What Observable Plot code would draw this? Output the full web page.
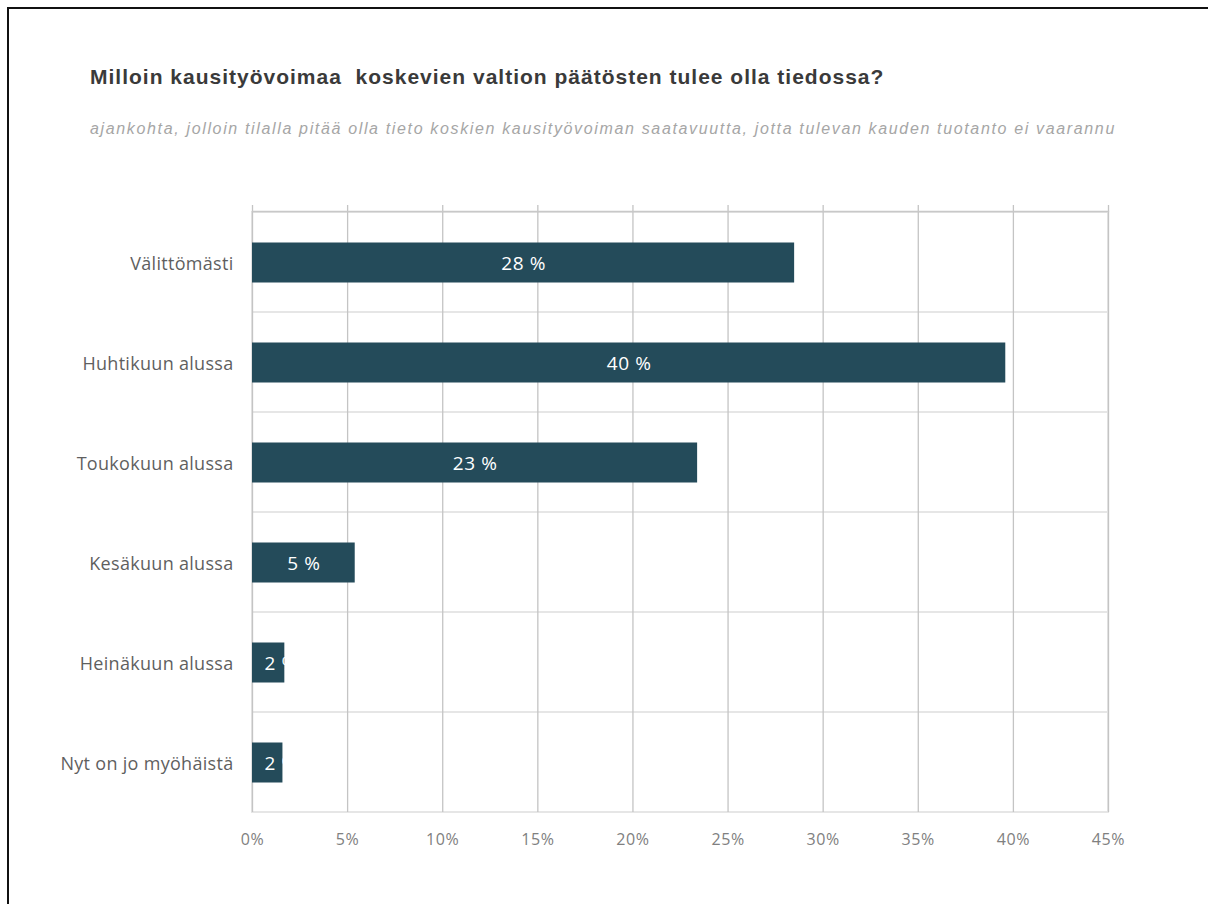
<!DOCTYPE html>
<html>
<head>
<meta charset="utf-8">
<script src="https://cdn.jsdelivr.net/npm/d3@7"></script>
<script src="https://cdn.jsdelivr.net/npm/@observablehq/plot@0.6"></script>
<style>
  html, body { margin: 0; padding: 0; background: #fff; width: 1208px; height: 904px; overflow: hidden; }
  #border { position: absolute; left: 7px; top: 7px; width: 1300px; height: 1000px; border: 2px solid #111; box-sizing: border-box; }
  #title { position: absolute; left: 90px; top: 65px; font-family: "Liberation Sans", Arial, sans-serif; font-weight: bold; font-size: 21px; letter-spacing: 1px; color: #3a3a3a; white-space: pre; }
  #subtitle { position: absolute; left: 90px; top: 120px; font-family: "Liberation Sans", Arial, sans-serif; font-style: italic; font-size: 16px; letter-spacing: 1.65px; color: #a6a6a6; white-space: pre; }
  #chart { position: absolute; left: 0; top: 190px; }
  #chart g[aria-label="y-axis tick label"] text { letter-spacing: 0.3px; }
  #chart g[aria-label="x-axis tick label"] text { letter-spacing: 0.6px; }
  #chart g[aria-label="text"] text { letter-spacing: 0.6px; }
</style>
</head>
<body>
<div id="border"></div>
<div id="title">Milloin kausityövoimaa  koskevien valtion päätösten tulee olla tiedossa?</div>
<div id="subtitle">ajankohta, jolloin tilalla pitää olla tieto koskien kausityövoiman saatavuutta, jotta tulevan kauden tuotanto ei vaarannu</div>
<div id="chart"></div>
<script>
const categories = ["Välittömästi", "Huhtikuun alussa", "Toukokuun alussa", "Kesäkuun alussa", "Heinäkuun alussa", "Nyt on jo myöhäistä"];
const values = [28.5, 39.6, 23.4, 5.4, 1.7, 1.6];
const valueLabels = ["28 %", "40 %", "23 %", "5 %", "2 %", "2 %"];
const xTicks = [0, 5, 10, 15, 20, 25, 30, 35, 40, 45];
const xMax = 45;
// labels of bars too narrow to hold them keep a minimum centre (Excel-style, clipped by the bar end)
const minLabelCentre = 1.5;

const data = categories.map((c, i) => ({cat: c, value: values[i], label: valueLabels[i]}));

const chart = Plot.plot({
  width: 1208,
  height: 680,
  marginLeft: 252,
  marginRight: 100,
  marginTop: 21,
  marginBottom: 58,
  style: {fontFamily: "'Open Sans', Lato, sans-serif", background: "transparent"},
  x: {domain: [0, xMax], label: null},
  y: {type: "band", domain: categories, padding: 0, label: null},
  marks: [
    Plot.barX(categories, {y: d => d, x1: 0, x2: xMax, fill: "none", stroke: "#e6e6e6", strokeWidth: 2, inset: 0}),
    Plot.gridX(xTicks, {stroke: "#c4c4c4", strokeOpacity: 1, strokeWidth: 1.3, insetTop: -6}),
    Plot.frame({anchor: "top", stroke: "#c8c8c8", strokeWidth: 1.3}),
    Plot.barX(data, {y: "cat", x: "value", fill: "#244b5a", insetTop: 30.5, insetBottom: 29.5}),
    Plot.text(data, {y: "cat", x: d => Math.max(d.value / 2, minLabelCentre), text: "label", fill: "#ffffff", fontSize: 19, dy: 1}),
    Plot.axisX(xTicks, {tickSize: 0, tickPadding: 21, tickFormat: d => d + "%", fontSize: 16, fill: "#808080", label: null}),
    Plot.axisY({tickSize: 0, tickPadding: 19, fontSize: 18, fill: "#5f5f5f", label: null, dy: 2})
  ]
});
document.getElementById("chart").appendChild(chart);
</script>
</body>
</html>
